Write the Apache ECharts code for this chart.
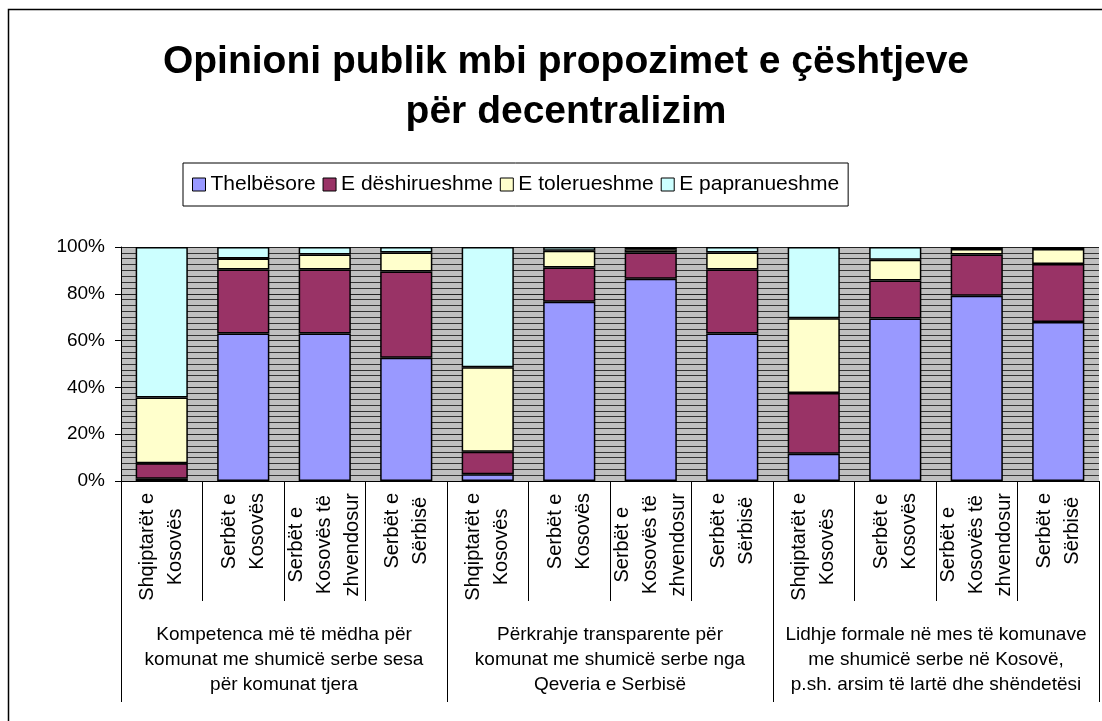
<!DOCTYPE html>
<html>
<head>
<meta charset="utf-8">
<script src="https://cdn.jsdelivr.net/npm/echarts@6/dist/echarts.min.js"></script>
<style>
  html, body { margin: 0; padding: 0; background: #fff; }
  #chart { width: 1102px; height: 721px; }
</style>
</head>
<body>
<div id="chart"></div>
<script>
// kategorite (12 shtylla) dhe grupet (3)
var categories = [
  'Shqiptarët e\nKosovës', 'Serbët e\nKosovës', 'Serbët e\nKosovës të\nzhvendosur', 'Serbët e\nSërbisë',
  'Shqiptarët e\nKosovës', 'Serbët e\nKosovës', 'Serbët e\nKosovës të\nzhvendosur', 'Serbët e\nSërbisë',
  'Shqiptarët e\nKosovës', 'Serbët e\nKosovës', 'Serbët e\nKosovës të\nzhvendosur', 'Serbët e\nSërbisë'
];
var groups = [
  'Kompetenca më të mëdha për\nkomunat me shumicë serbe sesa\npër komunat tjera',
  'Përkrahje transparente për\nkomunat me shumicë serbe nga\nQeveria e Serbisë',
  'Lidhje formale në mes të komunave\nme shumicë serbe në Kosovë,\np.sh. arsim të lartë dhe shëndetësi'
];
var seriesNames = ['Thelbësore', 'E dëshirueshme', 'E tolerueshme', 'E papranueshme'];
var thelbesore     = [1.0, 63.0, 63.0, 52.7, 2.9, 76.6, 86.4, 63.0, 11.6, 69.4, 79.2, 67.9];
var deshirueshme   = [6.6, 27.4, 27.4, 36.8, 9.6, 14.6, 11.2, 27.4, 26.0, 16.3, 17.6, 24.8];
var tolerueshme    = [28.1, 4.7, 6.4, 8.1, 36.1, 7.2, 1.4, 7.2, 32.0, 8.8, 2.3, 6.4];
var papranueshme   = [64.3, 4.9, 3.2, 2.4, 51.4, 1.6, 1.0, 2.4, 30.4, 5.5, 0.9, 0.9];
var yTicks = [0, 20, 40, 60, 80, 100];

var FONT = '"Liberation Sans", Arial, sans-serif';
var colors = ['#9999FF', '#993366', '#FFFFCC', '#CCFFFF'];

var myChart = echarts.init(document.getElementById('chart'));

function barSeries(name, data, idx) {
  return {
    name: name,
    type: 'bar',
    stack: 'total',
    xAxisIndex: 0,
    barCategoryGap: '36%',
    data: data,
    itemStyle: {
      color: colors[idx],
      borderColor: '#000',
      borderWidth: 1.5
    }
  };
}

myChart.setOption({
  animation: false,
  textStyle: { fontFamily: FONT, color: '#000' },
  graphic: [
    {
      type: 'rect',
      silent: true,
      shape: { x: 8.5, y: 9.5, width: 1120, height: 740 },
      style: { fill: 'none', stroke: '#000', lineWidth: 1.5 }
    },
    {
      type: 'text',
      x: 566,
      y: 37,
      style: {
        text: 'Opinioni publik mbi propozimet e çështjeve\npër decentralizim',
        font: 'bold 39px ' + FONT,
        fill: '#000',
        textAlign: 'center',
        textVerticalAlign: 'top',
        lineHeight: 50
      }
    }
  ],
  legend: {
    data: seriesNames,
    left: 183,
    top: 163,
    padding: [11, 9],
    itemGap: 7,
    itemWidth: 13,
    itemHeight: 13,
    icon: 'rect',
    borderColor: '#000',
    borderWidth: 1,
    itemStyle: { borderColor: '#000', borderWidth: 1 },
    textStyle: { fontSize: 21, color: '#000', fontFamily: FONT }
  },
  grid: {
    left: 121,
    right: 3,
    top: 247,
    bottom: 240,
    show: true,
    backgroundColor: '#C0C0C0',
    borderWidth: 0
  },
  xAxis: [
    {
      type: 'category',
      data: categories,
      position: 'bottom',
      axisLine: { show: true, lineStyle: { color: '#000', width: 1 } },
      axisTick: { show: true, length: 120, lineStyle: { color: '#000' } },
      axisLabel: {
        interval: 0,
        rotate: 90,
        margin: 12,
        color: '#000',
        formatter: function (v) {
          return v.split('\n').map(function (s) { return '{c|' + s + '}'; }).join('\n');
        },
        rich: {
          c: { align: 'center', fontSize: 20, lineHeight: 28, fontFamily: FONT, color: '#000' }
        }
      }
    },
    {
      type: 'category',
      data: groups,
      position: 'bottom',
      axisLine: { show: true, lineStyle: { color: '#000', width: 1 } },
      axisTick: { show: true, length: 221, lineStyle: { color: '#000' } },
      axisLabel: {
        interval: 0,
        margin: 141,
        fontSize: 19,
        lineHeight: 25,
        color: '#000',
        fontFamily: FONT,
        align: 'center'
      }
    }
  ],
  yAxis: {
    type: 'value',
    min: 0,
    max: 100,
    interval: 20,
    axisLine: { show: true, lineStyle: { color: '#000', width: 1 } },
    axisTick: { show: true, length: 6, lineStyle: { color: '#000' } },
    axisLabel: {
      margin: 16,
      fontSize: 19,
      color: '#000',
      fontFamily: FONT,
      formatter: function (v) { return yTicks.indexOf(v) >= 0 ? v + '%' : ''; }
    },
    splitLine: { show: true, lineStyle: { color: '#222', width: 1 } },
    minorTick: { show: false, splitNumber: 8 },
    minorSplitLine: { show: true, lineStyle: { color: '#333', width: 1 } }
  },
  series: [
    barSeries(seriesNames[0], thelbesore, 0),
    barSeries(seriesNames[1], deshirueshme, 1),
    barSeries(seriesNames[2], tolerueshme, 2),
    barSeries(seriesNames[3], papranueshme, 3)
  ]
});
</script>
</body>
</html>
